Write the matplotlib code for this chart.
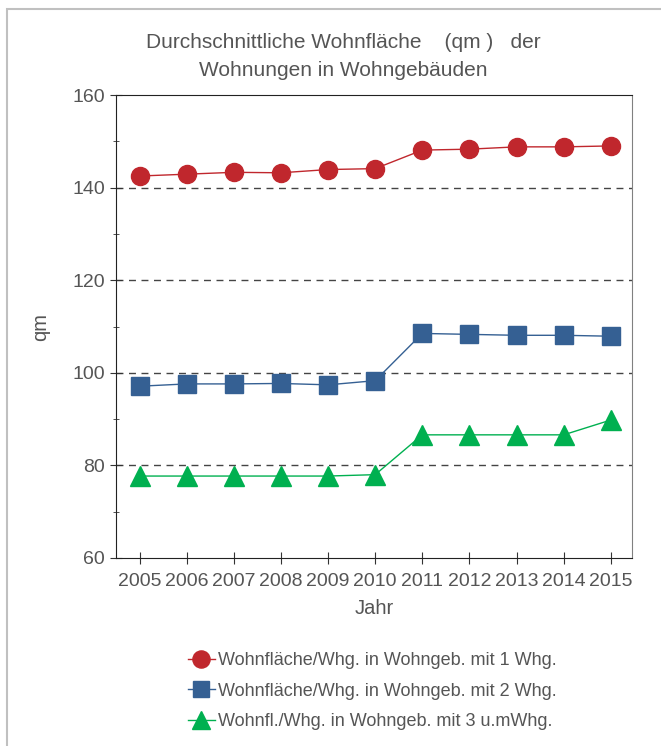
import matplotlib.pyplot as plt
from matplotlib.patches import Rectangle

years = [2005, 2006, 2007, 2008, 2009, 2010, 2011, 2012, 2013, 2014, 2015]
ein_whg = [142.5, 142.9, 143.3, 143.2, 143.9, 144.1, 148.1, 148.3, 148.8, 148.8, 149.0]
zwei_whg = [97.1, 97.6, 97.6, 97.7, 97.4, 98.3, 108.5, 108.3, 108.1, 108.1, 107.9]
drei_whg = [77.7, 77.7, 77.7, 77.7, 77.7, 78.0, 86.6, 86.6, 86.6, 86.6, 89.8]
labels = ['Wohnfläche/Whg. in Wohngeb. mit 1 Whg.',
          'Wohnfläche/Whg. in Wohngeb. mit 2 Whg.',
          'Wohnfl./Whg. in Wohngeb. mit 3 u.mWhg.']

plt.rcParams['font.family'] = ['Liberation Sans', 'DejaVu Sans']
txt = '#555555'

fig = plt.figure(figsize=(6.61, 7.46), dpi=100)
fig.patches.append(Rectangle((7/661, -0.1), 1.1, 1 - 9/746 + 0.1,
                             transform=fig.transFigure, fill=False,
                             edgecolor='#c0c0c0', linewidth=1.5))

ax = fig.add_axes([116/661, 1 - 558/746, (632 - 116)/661, (558 - 95)/746])

ax.plot(years, ein_whg, color='#C0272D', lw=1, marker='o', ms=13, label=labels[0])
ax.plot(years, zwei_whg, color='#356093', lw=1, marker='s', ms=12.5, label=labels[1])
ax.plot(years, drei_whg, color='#00B050', lw=1, marker='^', ms=14, label=labels[2])

for v in [80, 100, 120, 140]:
    ax.axhline(v, color='#444444', lw=1, ls=(0, (5, 4)), zorder=0)

ax.set_xlim(2004.5, 2015.45)
ax.set_ylim(60, 160)
ax.set_xticks(years)
ax.set_yticks([60, 80, 100, 120, 140, 160])
ax.set_yticks([70, 90, 110, 130, 150], minor=True)
ax.tick_params(axis='both', which='major', direction='inout', length=9,
               labelsize=14, labelcolor=txt, color='#333333')
ax.tick_params(axis='x', pad=6)
ax.tick_params(axis='y', which='minor', direction='inout', length=5, color='#333333')
ax.spines['right'].set_color('#808080')
for s in ['left', 'bottom', 'top']:
    ax.spines[s].set_color('#222222')

ax.set_xlabel('Jahr', fontsize=14.5, color=txt, labelpad=7)
ax.set_ylabel('qm', fontsize=14.5, color=txt, labelpad=16)

fig.text(343/661, 1 - 42/746, 'Durchschnittliche Wohnfläche    (qm )   der',
         ha='center', va='center', fontsize=15, color=txt)
fig.text(343/661, 1 - 70/746, 'Wohnungen in Wohngebäuden',
         ha='center', va='center', fontsize=15, color=txt)

fig.legend(loc='center', bbox_to_anchor=(372/661, 1 - 691/746), frameon=False,
           fontsize=13, labelcolor=txt, handlelength=1.5, handletextpad=0.15,
           labelspacing=0.75, markerscale=0.95)

fig.savefig('out.png', dpi=100)
